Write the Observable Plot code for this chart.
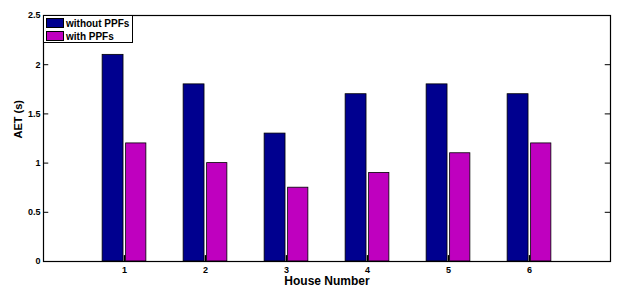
<!DOCTYPE html>
<html>
<head>
<meta charset="utf-8">
<script src="https://cdn.jsdelivr.net/npm/d3@7"></script>
<script src="https://cdn.jsdelivr.net/npm/@observablehq/plot@0.6"></script>
<style>
  html, body { margin: 0; padding: 0; background: #fff; }
  #wrap { position: relative; width: 631px; height: 295px; font-family: "Liberation Sans", Arial, sans-serif; }
  #legend { position: absolute; left: 43px; top: 15px; width: 90px; height: 28px; border: 1px solid #000; background: #fff; box-sizing: border-box; font-weight: bold; font-size: 10px; }
  .row { display: flex; align-items: center; height: 12px; margin-left: 2px; margin-top: 1px; }
  .sw { width: 18px; height: 10px; border: 1px solid #000; box-sizing: border-box; margin-right: 2px; }
</style>
</head>
<body>
<div id="wrap">
  <div id="chart"></div>
  <div id="legend"></div>
</div>
<script>
const houses = [1, 2, 3, 4, 5, 6];
const withoutPPFs = [2.1, 1.8, 1.3, 1.7, 1.8, 1.7];
const withPPFs = [1.2, 1.0, 0.75, 0.9, 1.1, 1.2];
const seriesNames = ["without PPFs", "with PPFs"];
const seriesColors = ["#00008f", "#bf00bf"];
const yTicks = [0, 0.5, 1, 1.5, 2, 2.5];

const rows = [];
houses.forEach((h, i) => {
  rows.push({house: h, series: seriesNames[0], value: withoutPPFs[i], x1: h - 0.27, x2: h - 0.012});
  rows.push({house: h, series: seriesNames[1], value: withPPFs[i], x1: h + 0.02, x2: h + 0.27});
});

const chart = Plot.plot({
  width: 631,
  height: 295,
  marginLeft: 43,
  marginRight: 21,
  marginTop: 15,
  marginBottom: 34,
  style: {fontFamily: "Liberation Sans, Arial, sans-serif", fontWeight: "bold", fontSize: "9px", background: "#fff", color: "#000"},
  x: {domain: [0, 7]},
  y: {domain: [0, 2.5]},
  color: {domain: seriesNames, range: seriesColors},
  marks: [
    Plot.rectY(rows, {x1: "x1", x2: "x2", y1: 0, y2: "value", fill: "series", stroke: "#000", strokeWidth: 0.8}),
    Plot.ruleY(yTicks, {y: d => d, x1: 0, x2: 0.065, stroke: "#000"}),
    Plot.ruleY(yTicks, {y: d => d, x1: 7, x2: 6.935, stroke: "#000"}),
    Plot.ruleX(houses, {x: d => d, y1: 0, y2: 0.06, stroke: "#000", strokeWidth: 1.5}),
    Plot.axisY({ticks: yTicks, tickSize: 0, tickPadding: 3, tickFormat: d => String(d), label: null, fontSize: 9}),
    Plot.axisX({ticks: houses, tickSize: 0, tickPadding: 5, tickFormat: d => String(d), label: null, fontSize: 9}),
    Plot.text(["House Number"], {frameAnchor: "bottom", dy: 23, fontSize: 12, fontWeight: "bold", fill: "#000"}),
    Plot.text(["AET (s)"], {frameAnchor: "left", dx: -25, rotate: -90, fontSize: 11, fontWeight: "bold", fill: "#000"}),
    Plot.frame({stroke: "#000", strokeWidth: 1.2})
  ]
});
document.getElementById("chart").appendChild(chart);

const legend = document.getElementById("legend");
seriesNames.forEach((n, i) => {
  const r = document.createElement("div");
  r.className = "row";
  const s = document.createElement("div");
  s.className = "sw";
  s.style.background = seriesColors[i];
  const t = document.createElement("span");
  t.textContent = n;
  r.appendChild(s);
  r.appendChild(t);
  legend.appendChild(r);
});
</script>
</body>
</html>
